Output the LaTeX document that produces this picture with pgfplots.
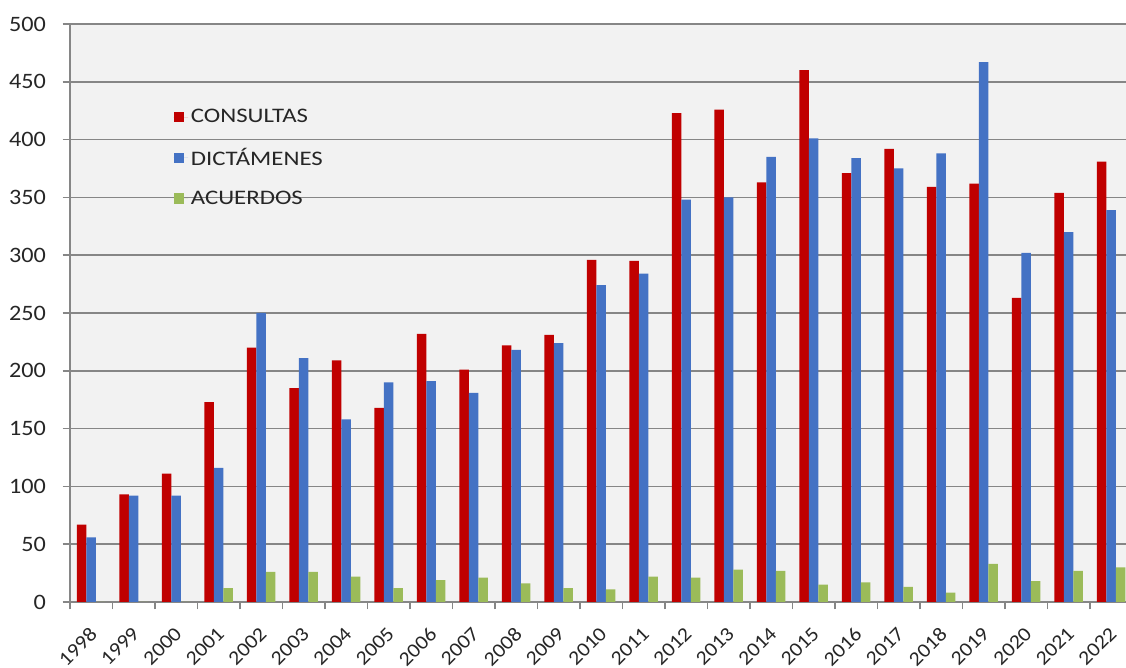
\documentclass[border=0pt]{standalone}
\usepackage{pgfplots}
\pgfplotsset{compat=1.18}
\usepackage{fontspec}
\setmainfont{Carlito}[FakeStretch=1.1]
\newfontfamily\legfont{Carlito}[FakeStretch=1.2]
\definecolor{cred}{HTML}{C00000}
\definecolor{cblue}{HTML}{4472C4}
\definecolor{cgreen}{HTML}{9BBB59}
\definecolor{gridc}{HTML}{868686}
\definecolor{bgc}{HTML}{F2F2F2}
\pgfplotsset{lsq/.style={legend image code/.code={\fill[##1] (0pt,-3.9pt) rectangle (7.8pt,3.9pt); \path (0pt,0pt) -- (11pt,0pt);}}}
\begin{document}
\begin{tikzpicture}
\begin{axis}[
  name=ax,
  scale only axis, width=792pt, height=433.5pt,
  xmin=-0.5, xmax=24.35, ymin=0, ymax=500,
  ybar=0pt, bar width=7.125pt,
  axis background/.style={fill=bgc},
  axis x line*=bottom, axis y line*=left,
  axis line style={draw=gridc, line width=1.2pt},
  ymajorgrids, grid style={draw=gridc, line width=1.2pt},
  ytick={0,50,...,500},
  tick align=outside,
  major tick length=5.5pt,
  tick style={draw=gridc, line width=1.2pt},
  xtick={-0.5,0.5,...,24.5},
  xticklabels={},
  extra x ticks={0,1,...,24},
  extra x tick labels={1998,1999,2000,2001,2002,2003,2004,2005,2006,2007,2008,2009,2010,2011,2012,2013,2014,2015,2016,2017,2018,2019,2020,2021,2022},
  extra x tick style={major tick length=0pt, tick style={draw=none},
     tick label style={xshift=-2pt, yshift=-16.3pt, rotate=45, anchor=north east, inner sep=1pt, font=\fontsize{15}{17}\selectfont}},
  /pgf/number format/assume math mode=true,
  ticklabel style={font=\fontsize{16.5}{18}\selectfont, text=black!85},
  yticklabel style={xshift=-9pt},
  legend style={draw=none, fill=none, at={(0.094,0.862)}, anchor=north west,
     font=\legfont\fontsize{15.5}{17}\selectfont, row sep=13.5pt,
     text=black!85},
  legend cell align=left,
]
\addplot+[lsq, fill=cred, draw=none] coordinates {
(0,67) (1,93) (2,111) (3,173) (4,220) (5,185) (6,209) (7,168) (8,232) (9,201) (10,222) (11,231) (12,296) (13,295) (14,423) (15,426) (16,363) (17,460) (18,371) (19,392) (20,359) (21,362) (22,263) (23,354) (24,381)};
\addplot+[lsq, fill=cblue, draw=none] coordinates {
(0,56) (1,92) (2,92) (3,116) (4,250) (5,211) (6,158) (7,190) (8,191) (9,181) (10,218) (11,224) (12,274) (13,284) (14,348) (15,350) (16,385) (17,401) (18,384) (19,375) (20,388) (21,467) (22,302) (23,320) (24,339)};
\addplot+[lsq, fill=cgreen, draw=none] coordinates {
(0,0) (1,0) (2,0) (3,12) (4,26) (5,26) (6,22) (7,12) (8,19) (9,21) (10,16) (11,12) (12,11) (13,22) (14,21) (15,28) (16,27) (17,15) (18,17) (19,13) (20,8) (21,33) (22,18) (23,27) (24,30)};
\legend{CONSULTAS, DICTÁMENES, ACUERDOS}
\end{axis}
\pgfresetboundingbox
\path ([shift={(-52.5pt,-49.5pt)}]ax.south west) rectangle ([shift={(0pt,18pt)}]ax.north east);
\end{tikzpicture}
\end{document}
